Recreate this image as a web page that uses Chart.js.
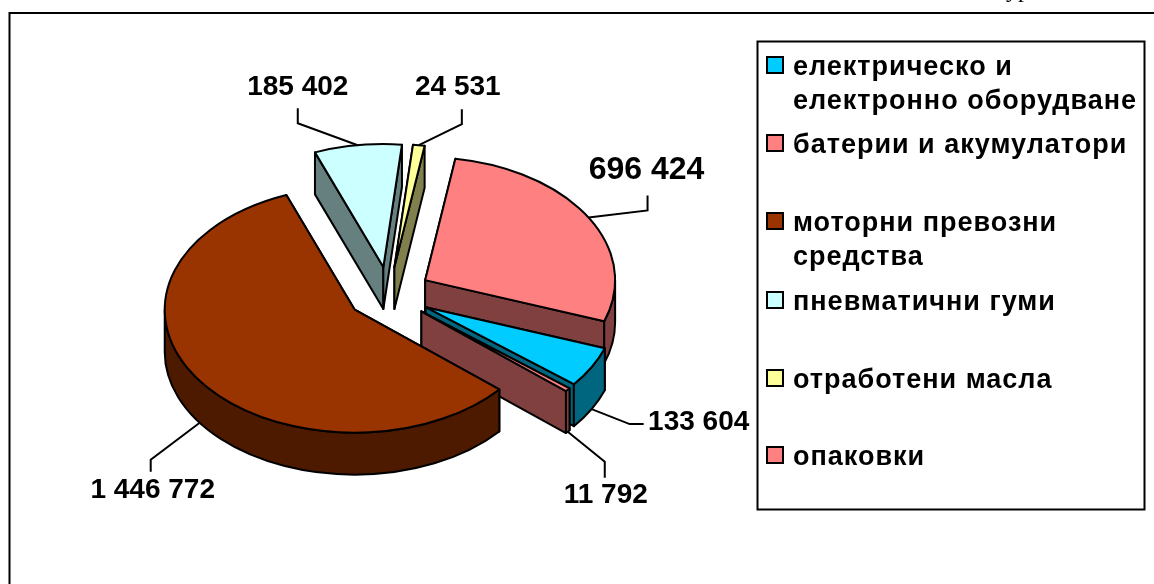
<!DOCTYPE html>
<html>
<head>
<meta charset="utf-8">
<style>
    html, body { margin: 0; padding: 0; background: #fff; overflow: hidden; }
    canvas { display: block; }
</style>
<script src="https://cdn.jsdelivr.net/npm/chart.js@4"></script>
</head>
<body>
<canvas id="the-graph" width="1154" height="584"></canvas>
<script>
/*
 *  Chart data
 */

const categories = [
    ['електрическо и', 'електронно оборудване'],
    ['батерии и акумулатори'],
    ['моторни превозни', 'средства'],
    ['пневматични гуми'],
    ['отработени масла'],
    ['опаковки']
];
const values = [133604, 11792, 1446772, 185402, 24531, 696424];
const topColors = ['#00CCFF', '#FF8080', '#993300', '#CCFFFF', '#FFFF99', '#FF8080'];
const wallColors = ['#006680', '#804040', '#4D1A00', '#668080', '#80804D', '#804040'];

/*
 *  Look of the fake 3D pie
 */

const TILT = 0.647;      // ellipse height / width
const DEPTH = 42;        // height of the walls
const EXPLODE = 42;      // how far each slice is pulled out
const DRAW_ORDER = [3, 4, 5, 0, 1, 2];   // back to front

// leader line: elbow and label centre, relative to the point on the rim
const leaders = [
    {elbow: [38, 15], end: [52, 15], label: [107, 13], size: 28},
    {elbow: [37, 30], end: [37, 46], label: [38, 64], size: 28},
    {elbow: [-49, 37], end: [-49, 49], label: [-47, 67], size: 28},
    {elbow: [-60, -22], end: [-60, -37], label: [-60, -58], size: 28},
    {elbow: [43, -21], end: [43, -36], label: [39, -58], size: 28},
    {elbow: [59, -7], end: [59, -22], label: [58, -47], size: 32}
];

// legend rows, one baseline per text line
const legendRows = [
    {box: 65, lines: [75, 109]},
    {box: 143, lines: [153]},
    {box: 221, lines: [231, 265]},
    {box: 300, lines: [310]},
    {box: 378, lines: [388]},
    {box: 455, lines: [465]}
];

/*
 *  Helpers
 */

function Apex(arc)
{
    let mid = (arc.startAngle + arc.endAngle) / 2;
    return {
        x: arc.x + Math.cos(mid) * EXPLODE,
        y: arc.y + Math.sin(mid) * EXPLODE * TILT
    };
}

function RimPoint(arc, angle, drop)
{
    let apex = Apex(arc);
    return {
        x: apex.x + Math.cos(angle) * arc.outerRadius,
        y: apex.y + Math.sin(angle) * arc.outerRadius * TILT + drop
    };
}

function Paint(ctx, fill)
{
    ctx.fillStyle = fill;
    ctx.fill();
    ctx.lineWidth = 2;
    ctx.strokeStyle = '#000';
    ctx.stroke();
}

function DrawRadialWall(ctx, arc, angle, fill)
{
    let apex = Apex(arc);
    let rim = RimPoint(arc, angle, 0);
    ctx.beginPath();
    ctx.moveTo(apex.x, apex.y);
    ctx.lineTo(rim.x, rim.y);
    ctx.lineTo(rim.x, rim.y + DEPTH);
    ctx.lineTo(apex.x, apex.y + DEPTH);
    ctx.closePath();
    Paint(ctx, fill);
}

function DrawRimWall(ctx, arc, fill)
{
    // only the part of the rim facing the viewer, angle 0..PI on screen
    let from = arc.startAngle, to = arc.endAngle;
    let apex = Apex(arc);
    let rx = arc.outerRadius, ry = rx * TILT;
    for(let turn = -1; turn <= 1; turn++)
    {
        let a = Math.max(from, turn * 2 * Math.PI);
        let b = Math.min(to, turn * 2 * Math.PI + Math.PI);
        if(b <= a)
        {
            continue;
        }
        ctx.beginPath();
        ctx.ellipse(apex.x, apex.y, rx, ry, 0, a, b);
        ctx.ellipse(apex.x, apex.y + DEPTH, rx, ry, 0, b, a, true);
        ctx.closePath();
        Paint(ctx, fill);
    }
}

function DrawTop(ctx, arc, fill)
{
    let apex = Apex(arc);
    ctx.beginPath();
    ctx.moveTo(apex.x, apex.y);
    ctx.ellipse(apex.x, apex.y, arc.outerRadius, arc.outerRadius * TILT, 0, arc.startAngle, arc.endAngle);
    ctx.closePath();
    Paint(ctx, fill);
}

function FormatValue(val)
{
    return String(val).replace(/\B(?=(\d{3})+$)/g, ' ');
}

/*
 *  Plugins
 */

const pie3d = {
    id: 'pie3d',
    beforeDatasetDraw(chart) {
        let ctx = chart.ctx;
        let arcs = chart.getDatasetMeta(0).data;
        ctx.save();
        ctx.lineJoin = 'round';
        DRAW_ORDER.forEach((i) => {
            let arc = arcs[i];
            DrawRadialWall(ctx, arc, arc.startAngle, wallColors[i]);
            DrawRadialWall(ctx, arc, arc.endAngle, wallColors[i]);
            DrawRimWall(ctx, arc, wallColors[i]);
            DrawTop(ctx, arc, topColors[i]);
        });
        ctx.restore();
        return false;
    }
};

const decorations = {
    id: 'decorations',
    afterDraw(chart) {
        let ctx = chart.ctx;
        let arcs = chart.getDatasetMeta(0).data;
        ctx.save();

        // chart frame, open at the bottom and the right of the crop
        ctx.strokeStyle = '#000';
        ctx.lineWidth = 2;
        ctx.beginPath();
        ctx.moveTo(9.5, 584);
        ctx.lineTo(9.5, 13);
        ctx.lineTo(1154, 13);
        ctx.stroke();

        // what is left of the caption above the frame
        ctx.fillStyle = '#000';
        ctx.textAlign = 'left';
        ctx.textBaseline = 'alphabetic';
        ctx.font = '24px "Liberation Serif"';
        ctx.fillText('ур', 1006, -3);

        // leader lines and value labels
        arcs.forEach((arc, i) => {
            let mid = (arc.startAngle + arc.endAngle) / 2;
            let low = Math.sin(mid) > 0;
            let rim = RimPoint(arc, mid, low ? DEPTH : 0);
            let spot = leaders[i];
            ctx.lineWidth = 2;
            ctx.beginPath();
            ctx.moveTo(rim.x, rim.y);
            ctx.lineTo(rim.x + spot.elbow[0], rim.y + spot.elbow[1]);
            ctx.lineTo(rim.x + spot.end[0], rim.y + spot.end[1]);
            ctx.stroke();
            ctx.font = 'bold ' + spot.size + 'px "Liberation Sans"';
            ctx.textAlign = 'center';
            ctx.textBaseline = 'middle';
            ctx.fillText(FormatValue(values[i]), rim.x + spot.label[0], rim.y + spot.label[1]);
        });

        // legend
        ctx.lineWidth = 2;
        ctx.strokeRect(757.5, 41.5, 387, 468);
        ctx.textAlign = 'left';
        ctx.textBaseline = 'alphabetic';
        ctx.font = 'bold 27px "Liberation Sans"';
        ctx.letterSpacing = '1px';
        legendRows.forEach((row, i) => {
            ctx.fillStyle = topColors[i];
            ctx.fillRect(767, row.box - 8, 16, 16);
            ctx.strokeRect(767, row.box - 8, 16, 16);
            ctx.fillStyle = '#000';
            categories[i].forEach((line, n) => {
                ctx.fillText(line, 793, row.lines[n]);
            });
        });
        ctx.restore();
    }
};

/*
 *  Chart
 */

document.addEventListener("DOMContentLoaded", () => {
    let content = document.getElementById('the-graph').getContext('2d');
    new Chart(content, {
        type: 'pie',
        data: {
            labels: categories,
            datasets: [{
                data: values,
                backgroundColor: topColors,
                borderColor: '#000',
                borderWidth: 2
            }]
        },
        options: {
            responsive: false,
            animation: false,
            rotation: 109.5,
            radius: 190,
            layout: {padding: {right: 376, top: 4}},
            plugins: {
                legend: {display: false},
                tooltip: {enabled: false}
            }
        },
        plugins: [pie3d, decorations]
    });
});
</script>
</body>
</html>
